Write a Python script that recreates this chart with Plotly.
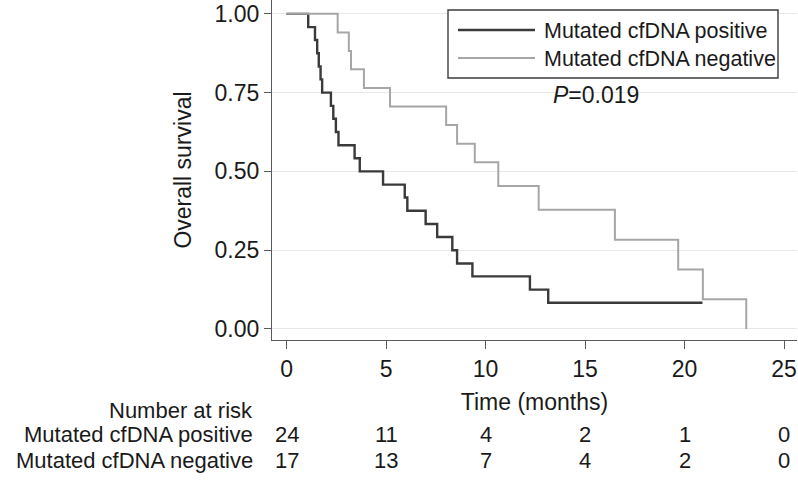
import plotly.graph_objects as go

# ---------------- data ----------------
pos_name = "Mutated cfDNA positive"
neg_name = "Mutated cfDNA negative"

pos_time = [0, 1.09, 1.43, 1.54, 1.62, 1.71, 1.79, 2.23, 2.35, 2.48, 2.61, 3.42, 3.68,
            4.85, 5.94, 6.07, 6.99, 7.57, 8.33, 8.57, 9.34, 12.23, 13.15, 20.9]
pos_surv = [1.0, 0.958, 0.917, 0.875, 0.833, 0.792, 0.75, 0.708, 0.667, 0.625, 0.583,
            0.542, 0.5, 0.458, 0.417, 0.375, 0.333, 0.292, 0.25, 0.208, 0.167, 0.125,
            0.083, 0.083]

neg_time = [0, 2.57, 3.13, 3.24, 3.89, 5.2, 8.02, 8.57, 9.46, 10.64, 12.67, 16.5,
            19.68, 20.92, 23.1]
neg_surv = [1.0, 0.941, 0.882, 0.824, 0.765, 0.706, 0.647, 0.588, 0.529, 0.454, 0.378,
            0.283, 0.189, 0.094, 0.0]

x_ticks = [0, 5, 10, 15, 20, 25]
y_ticks = [0, 0.25, 0.5, 0.75, 1.0]
y_tick_labels = ["0.00", "0.25", "0.50", "0.75", "1.00"]

risk_times = [0, 5, 10, 15, 20, 25]
risk_pos = [24, 11, 4, 2, 1, 0]
risk_neg = [17, 13, 7, 4, 2, 0]

p_text = "<i>P</i>=0.019"

# ---------------- style ----------------
W, H = 798, 482
ML, MR, MT, MB = 272, 1, 0, 142
PW, PH = W - ML - MR, H - MT - MB
FONT = "Liberation Sans, Arial, Helvetica, sans-serif"
FS = 23
FS_TABLE = 22
DARK = "#3a3a3a"
LIGHT = "#a6a6a6"
AXIS = "#5a5a5a"
TXT = "#1a1a1a"


def px_x(px):
    return (px - ML) / PW


def px_y(py):
    return (MT + PH - py) / PH


fig = go.Figure()
fig.add_trace(go.Scatter(x=pos_time, y=pos_surv, mode="lines", name=pos_name,
                         line=dict(color=DARK, width=2.4, shape="hv")))
fig.add_trace(go.Scatter(x=neg_time, y=neg_surv, mode="lines", name=neg_name,
                         line=dict(color=LIGHT, width=2.0, shape="hv")))

fig.update_layout(
    width=W, height=H,
    margin=dict(l=ML, r=MR, t=MT, b=MB, autoexpand=False),
    paper_bgcolor="white", plot_bgcolor="white",
    showlegend=False,
    font=dict(family=FONT, size=FS, color=TXT),
)
fig.update_xaxes(
    range=[-0.73, 25.65], tickvals=x_ticks, ticktext=[str(t) for t in x_ticks],
    showgrid=False, zeroline=False, automargin=False,
    showline=True, linecolor=AXIS, linewidth=1.3,
    ticks="outside", ticklen=8, tickcolor=AXIS, tickwidth=1.2,
    tickfont=dict(size=FS),
    title=dict(text="Time (months)", standoff=13, font=dict(size=FS)),
)
fig.update_yaxes(
    range=[-0.035, 1.044], tickvals=y_ticks, ticktext=y_tick_labels,
    showgrid=True, gridcolor="#e8e8e8", gridwidth=1.2, zeroline=False, automargin=False,
    showline=True, linecolor=AXIS, linewidth=1.3,
    ticks="outside", ticklen=7, tickcolor=AXIS, tickwidth=1.2,
    tickfont=dict(size=FS),
    title=dict(text="Overall survival", standoff=16, font=dict(size=FS)),
)

# ---------------- legend (drawn) ----------------
shapes = [dict(type="rect", xref="paper", yref="paper",
               x0=px_x(448), x1=px_x(778), y0=px_y(78), y1=px_y(10),
               line=dict(color="#3c3c3c", width=1.4), fillcolor="white", layer="above")]
annotations = []
for name, color, width, py in [(pos_name, DARK, 2.4, 30), (neg_name, LIGHT, 2.0, 58)]:
    shapes.append(dict(type="line", xref="paper", yref="paper",
                       x0=px_x(458), x1=px_x(535), y0=px_y(py), y1=px_y(py),
                       line=dict(color=color, width=width), layer="above"))
    annotations.append(dict(text=name, xref="paper", yref="paper",
                            x=px_x(542), y=px_y(py + 1), xanchor="left", yanchor="middle",
                            showarrow=False, font=dict(size=21.5)))

annotations.append(dict(text=p_text, xref="paper", yref="paper",
                        x=px_x(596), y=px_y(95), xanchor="center", yanchor="middle",
                        showarrow=False, font=dict(size=FS)))

# ---------------- number at risk table ----------------
annotations.append(dict(text="Number at risk", xref="paper", yref="paper",
                        x=px_x(255), y=px_y(410), xanchor="right", yanchor="middle",
                        showarrow=False, font=dict(size=FS_TABLE)))
for name, counts, py in [(pos_name, risk_pos, 435), (neg_name, risk_neg, 460)]:
    annotations.append(dict(text=name, xref="paper", yref="paper",
                            x=px_x(255), y=px_y(py), xanchor="right", yanchor="middle",
                            showarrow=False, font=dict(size=FS_TABLE)))
    for t, n in zip(risk_times, counts):
        annotations.append(dict(text=str(n), xref="x", yref="paper",
                                x=t, y=px_y(py), xanchor="center", yanchor="middle",
                                showarrow=False, font=dict(size=FS_TABLE)))

fig.update_layout(shapes=shapes, annotations=annotations)
fig.write_html("out.html", config={"displayModeBar": False},
               post_script="document.body.style.margin='0';")
